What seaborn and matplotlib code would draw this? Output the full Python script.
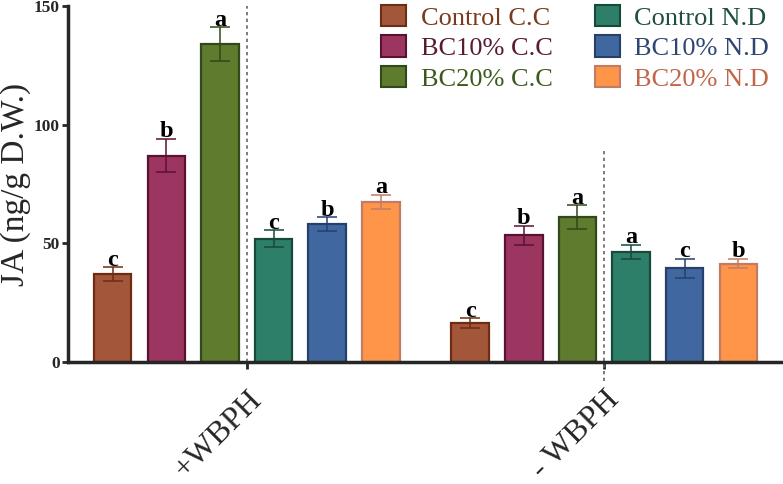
import numpy as np
import pandas as pd
import seaborn as sns
import matplotlib.pyplot as plt
from matplotlib.patches import Patch

groups = ['+WBPH', '- WBPH']
treatments = ['Control C.C', 'BC10% C.C', 'BC20% C.C', 'Control N.D', 'BC10% N.D', 'BC20% N.D']
ja_plus = [37, 87, 134, 52, 58, 67.5]
ja_minus = [16.5, 53.5, 61, 46.5, 39.5, 41.5]
err_plus = [3, 7, 7, 3.5, 3, 3]
err_minus = [2, 4, 5, 3, 4, 2]
letters_plus = ['c', 'b', 'a', 'c', 'b', 'a']
letters_minus = ['c', 'b', 'a', 'a', 'c', 'b']

fills = ['#A3573A', '#9C3660', '#5F7B2D', '#2D7F69', '#4167A0', '#FF9548']
edges = ['#6E2C12', '#5A1232', '#30481A', '#17493B', '#26406B', '#C47B65']
text_colors = ['#7A3A1E', '#5A1A35', '#3D5A1E', '#1F4F42', '#2F4672', '#C0674A']

values = [ja_plus, ja_minus]
errors = [err_plus, err_minus]
letters = [letters_plus, letters_minus]

df = pd.DataFrame({
    'group': np.repeat(groups, len(treatments)),
    'treatment': treatments * len(groups),
    'JA': ja_plus + ja_minus,
})

sns.set_style('ticks')
plt.rcParams['font.family'] = ['Liberation Serif', 'DejaVu Serif']

fig = plt.figure(figsize=(7.83, 4.84), dpi=100)
ax = fig.add_axes([68 / 783, 1 - 362 / 484, 1 - 68 / 783, (362 - 6) / 484])

sns.barplot(data=df, x='group', y='JA', hue='treatment', order=groups, hue_order=treatments,
            palette=fills, width=0.9, gap=0.3, errorbar=None, linewidth=1.6,
            saturation=1, ax=ax, legend=False)

# edge colours, error bars and significance letters
bar_conts = list(ax.containers)
for i, cont in enumerate(bar_conts):
    for j, bar in enumerate(cont):
        bar.set_edgecolor(edges[i])
        xc = bar.get_x() + bar.get_width() / 2
        v = values[j][i]
        e = errors[j][i]
        ax.errorbar(xc, v, yerr=e, color=edges[i], capsize=7.5, elinewidth=1.1,
                    capthick=1.1, zorder=3)
        ax.text(xc, v + e + 0.6, letters[j][i], ha='center', va='baseline',
                fontsize=17.5, fontweight='bold', color='black')

# dotted separators
ax.axvline(0, color='#666666', linestyle=(0, (2, 2)), linewidth=1.2, zorder=1)
ax.plot([1, 1], [-8, 89], color='#666666', linestyle=(0, (2, 2)), linewidth=1.2,
        clip_on=False, zorder=1)

ax.set_xlim(-0.5, 1.5)
ax.set_ylim(0, 150)
ax.set_yticks([0, 50, 100, 150])
ax.set_xlabel('')
ax.set_ylabel('JA (ng/g D.W.)', fontsize=24, labelpad=2)

for lab in ax.get_yticklabels():
    lab.set_fontweight('bold')
    lab.set_fontsize(12.5)
ax.tick_params(axis='y', length=4, width=2, pad=2)
ax.tick_params(axis='x', length=5, width=2, pad=12)
ax.set_xticks([0, 1])
ax.set_xticklabels(groups, rotation=45, ha='right', rotation_mode='anchor', fontsize=23)

sns.despine(ax=ax)
ax.spines['left'].set_linewidth(2.5)
ax.spines['bottom'].set_linewidth(2.5)

handles = [Patch(facecolor=f, edgecolor=e, linewidth=1.5) for f, e in zip(fills, edges)]
leg = fig.legend(handles, treatments, loc='upper left', bbox_to_anchor=(381 / 783, 1 - 5 / 484),
                 ncol=2, frameon=False, fontsize=19, handlelength=0.95, handleheight=0.85,
                 handletextpad=0.55, columnspacing=1.6, labelspacing=0.22,
                 borderpad=0, borderaxespad=0)
for t, c in zip(leg.get_texts(), text_colors):
    t.set_color(c)

fig.savefig('out.png', dpi=100)
